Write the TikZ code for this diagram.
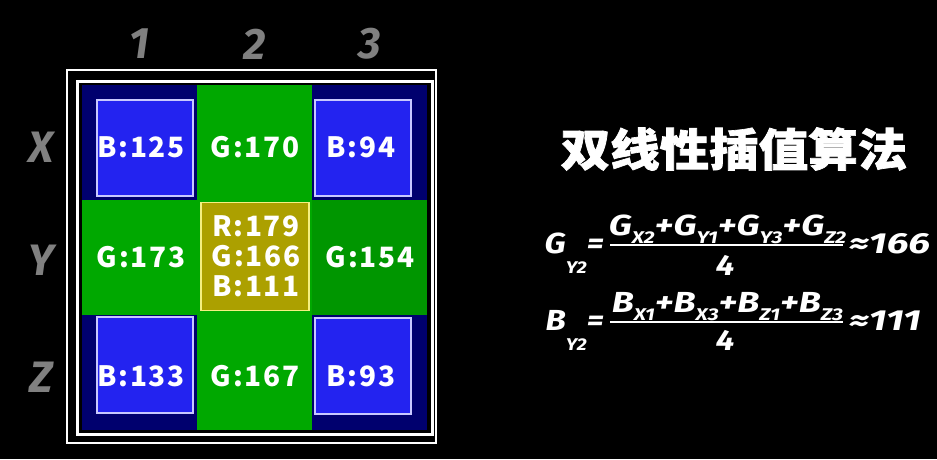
\documentclass[tikz,border=0pt]{standalone}
\usepackage{fontspec}
\setmainfont{Fira Sans}
\newfontfamily\cjk{Noto Sans CJK SC}[LetterSpace=6]
\newfontfamily\cjkheavy{Noto Sans CJK SC}[BoldFeatures={FakeBold=1.5}]

\definecolor{navycell}{RGB}{0,0,110}
\definecolor{bluecell}{RGB}{35,35,240}
\definecolor{blueedge}{RGB}{200,200,255}
\definecolor{greencell}{RGB}{0,168,0}
\definecolor{greendeep}{RGB}{0,150,0}
\definecolor{goldcell}{RGB}{172,160,0}
\definecolor{goldedge}{RGB}{245,240,130}
\definecolor{labelgray}{RGB}{128,128,128}

% lowered subscript and wide letters in the formulas
\newcommand{\lowsub}[2][-8pt]{\raisebox{#1}{\fontsize{17}{17}\selectfont #2}}
\newcommand{\wide}[2][1.15]{\scalebox{#1}[1]{#2}}

\begin{document}
\begin{tikzpicture}[x=1pt, y=-1pt,
    val/.style={text=white, font=\cjk\bfseries\fontsize{28}{30}\selectfont, inner sep=0pt},
    axislabel/.style={text=labelgray, font=\bfseries\itshape\fontsize{44}{44}\selectfont, inner sep=0pt},
    formula/.style={text=white, font=\bfseries\itshape\fontsize{29}{30}\selectfont, inner sep=0pt},
    fracbar/.style={white, line width=2.5pt},
    bluesq/.style={fill=bluecell, draw=blueedge, line width=1.5pt, minimum size=96pt, inner sep=0pt}]
  \useasboundingbox[fill=black] (0,0) rectangle (937,459);

  % frames
  \draw[white, line width=2pt] (67,70) rectangle (436,443);
  \draw[white, line width=3pt] (77,81) rectangle (432,434);

  % cells of the grid
  \foreach \i/\j/\col in {1/1/navycell, 2/1/greencell, 3/1/navycell,
      1/2/greencell, 2/2/greencell, 3/2/greendeep,
      1/3/navycell, 2/3/greencell, 3/3/navycell} {
    \fill[\col] ({82+115*(\i-1)},{85+115*(\j-1)}) rectangle +(115,115);
  }
  \foreach \x/\y in {145/148, 363/148, 145/365, 363/366}
    \node[bluesq] at (\x,\y) {};
  \node[fill=goldcell, draw=goldedge, line width=1.5pt, minimum size=108pt] (mid) at (255,256.5) {};

  % values
  \node[val] (x1) at (141,147) {B:125};
  \node[val] (x2) at (255,147) {G:170};
  \node[val] (x3) at (361,147) {B:94};
  \node[val] (y1) at (141,257) {G:173};
  \node[val, align=center] (y2) at (256,256) {R:179\\G:166\\B:111};
  \node[val] (y3) at (370,257) {G:154};
  \node[val] (z1) at (141,376) {B:133};
  \node[val] (z2) at (255,376) {G:167};
  \node[val] (z3) at (361,376) {B:93};

  % row and column labels
  \foreach \n/\x in {1/139, 2/255, 3/370}
    \node[axislabel] (col\n) at (\x,44) {\n};
  \foreach \n/\y in {X/147, Y/260, Z/377}
    \node[axislabel] (row\n) at (41,\y) {\n};

  % title
  \node[text=white, font=\cjkheavy\bfseries\fontsize{45}{45}\selectfont] (title) at (734,149)
    {\scalebox{1.1}[1]{双线性插值算法}};

  % formula for G
  \node[formula, anchor=base east] (glhs) at (604,253) {\wide{G\lowsub[-20pt]{Y2}=}};
  \node[formula, anchor=base] (gnum) at (727.5,235) {\wide[1.25]{G\lowsub{X2}+G\lowsub{Y1}+G\lowsub{Y3}+G\lowsub{Z2}}};
  \node[formula, anchor=base] (gden) at (725,275) {\wide{4}};
  \node[formula, anchor=base west] (grhs) at (849,253) {\wide[1.35]{≈166}};
  \coordinate (gbarl) at (610,245);
  \coordinate (gbarr) at (843,245);
  \draw[fracbar] (gbarl) -- (gbarr);

  % formula for B
  \node[formula, anchor=base east] (blhs) at (604,330) {\wide{B\lowsub[-20pt]{Y2}=}};
  \node[formula, anchor=base] (bnum) at (727.5,312) {\wide[1.25]{B\lowsub{X1}+B\lowsub{X3}+B\lowsub{Z1}+B\lowsub{Z3}}};
  \node[formula, anchor=base] (bden) at (725,350) {\wide{4}};
  \node[formula, anchor=base west] (brhs) at (849,330) {\wide[1.35]{≈111}};
  \coordinate (bbarl) at (610,322);
  \coordinate (bbarr) at (843,322);
  \draw[fracbar] (bbarl) -- (bbarr);
\end{tikzpicture}
\end{document}
